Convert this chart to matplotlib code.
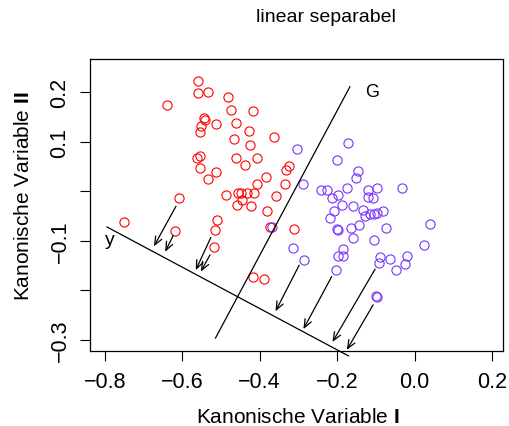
import numpy as np
import matplotlib
matplotlib.use("Agg")
import matplotlib.pyplot as plt
from matplotlib.ticker import FixedLocator, FixedFormatter

plt.rcParams["font.family"] = ["Liberation Sans", "DejaVu Sans"]
plt.rcParams["mathtext.fontset"] = "custom"
plt.rcParams["mathtext.rm"] = "Liberation Sans"
plt.rcParams["mathtext.bf"] = "Liberation Sans:bold"

# group 1 (red)
red_x = [-0.560, -0.560, -0.533, -0.481, -0.640, -0.474, -0.417, -0.544, -0.540, -0.552,
         -0.513, -0.461, -0.555, -0.427, -0.467, -0.425, -0.364, -0.561, -0.555, -0.462,
         -0.406, -0.439, -0.555, -0.514, -0.533, -0.383, -0.323, -0.333, -0.334, -0.408,
         -0.487, -0.455, -0.447, -0.432, -0.414, -0.445, -0.459, -0.423, -0.358, -0.607,
         -0.382, -0.749, -0.619, -0.509, -0.516, -0.517, -0.373, -0.311, -0.418, -0.390]
red_y = [0.222, 0.199, 0.200, 0.191, 0.175, 0.164, 0.163, 0.148, 0.143, 0.131,
         0.136, 0.138, 0.119, 0.121, 0.106, 0.094, 0.110, 0.067, 0.071, 0.068,
         0.067, 0.053, 0.048, 0.039, 0.025, 0.028, 0.051, 0.043, 0.015, 0.015,
         -0.007, -0.003, -0.003, -0.003, -0.003, -0.017, -0.028, -0.029, -0.009, -0.014,
         -0.040, -0.061, -0.080, -0.058, -0.079, -0.113, -0.071, -0.077, -0.173, -0.176]

# group 2 (blue)
blue_x = [-0.304, -0.173, -0.200, -0.147, -0.152, -0.288, -0.241, -0.226, -0.175, -0.120,
          -0.098, -0.032, -0.212, -0.198, -0.120, -0.108, -0.188, -0.160, -0.209, -0.219,
          -0.133, -0.127, -0.116, -0.106, -0.097, -0.081, -0.165, -0.144, -0.074, -0.201,
          -0.199, -0.160, -0.104, 0.039, -0.313, -0.184, -0.197, -0.184, -0.089, -0.091,
          -0.064, -0.019, -0.025, -0.049, 0.024, -0.286, -0.203, -0.098, -0.099, -0.369]
blue_y = [0.085, 0.098, 0.064, 0.040, 0.026, 0.014, 0.003, 0.003, 0.007, 0.003,
          0.007, 0.007, -0.014, -0.007, -0.011, -0.013, -0.028, -0.029, -0.039, -0.053,
          -0.038, -0.049, -0.046, -0.045, -0.044, -0.040, -0.074, -0.068, -0.074, -0.076,
          -0.079, -0.094, -0.099, -0.065, -0.115, -0.116, -0.130, -0.130, -0.133, -0.144,
          -0.136, -0.130, -0.147, -0.158, -0.108, -0.138, -0.158, -0.213, -0.212, -0.071]

# separating line G and projection axis y
g_line_x = [-0.514, -0.167]
g_line_y = [-0.296, 0.211]
y_line_x = [-0.794, -0.171]
y_line_y = [-0.072, -0.332]

# projection arrows (start -> end)
arr_x0 = [-0.616, -0.623, -0.526, -0.528, -0.298, -0.214, -0.102, -0.107]
arr_y0 = [-0.030, -0.089, -0.093, -0.128, -0.149, -0.172, -0.157, -0.229]
arr_x1 = [-0.673, -0.644, -0.565, -0.552, -0.359, -0.287, -0.212, -0.175]
arr_y1 = [-0.111, -0.122, -0.159, -0.162, -0.242, -0.278, -0.304, -0.320]

x_ticks = [-0.8, -0.6, -0.4, -0.2, 0.0, 0.2]
x_labels = ["\u22120.8", "\u22120.6", "\u22120.4", "\u22120.2", "0.0", "0.2"]
y_ticks = [0.2, 0.1, 0.0, -0.1, -0.2, -0.3]
y_labels = ["0.2", "0.1", "", "\u22120.1", "", "\u22120.3"]

fig = plt.figure(figsize=(5.09, 4.27), dpi=100)
ax = fig.add_axes([90 / 509, 1 - 352.3 / 427, 413.3 / 509, 292.3 / 427])

ax.plot(red_x, red_y, "o", mfc="none", mec="#ff0000", ms=6.6, mew=0.8)
ax.plot(blue_x, blue_y, "o", mfc="none", mec="#7733ff", ms=6.6, mew=0.8)

ax.plot(g_line_x, g_line_y, color="black", lw=0.9, clip_on=False)
ax.plot(y_line_x, y_line_y, color="black", lw=0.9, clip_on=False)
for x0, y0, x1, y1 in zip(arr_x0, arr_y0, arr_x1, arr_y1):
    ax.annotate("", xy=(x1, y1), xytext=(x0, y0),
                arrowprops=dict(arrowstyle="->,head_length=0.6,head_width=0.25",
                                color="black", lw=0.9, shrinkA=0, shrinkB=0))

ax.text(-0.110, 0.202, "G", fontsize=13, ha="center", va="center")
ax.text(-0.786, -0.097, "y", fontsize=14, ha="center", va="center")

ax.set_xlim(-0.838, 0.229)
ax.set_ylim(-0.3228, 0.267)
ax.xaxis.set_major_locator(FixedLocator(x_ticks))
ax.xaxis.set_major_formatter(FixedFormatter(x_labels))
ax.yaxis.set_major_locator(FixedLocator(y_ticks))
ax.yaxis.set_major_formatter(FixedFormatter(y_labels))
ax.tick_params(length=7, width=0.8, pad=7, labelsize=15.5)
for lab in ax.get_yticklabels():
    lab.set_rotation(90)
    lab.set_va("center")
for sp in ax.spines.values():
    sp.set_linewidth(0.9)

ax.set_xlabel(r"Kanonische Variable $\mathbf{I}$", fontsize=15)
ax.set_ylabel(r"Kanonische Variable $\mathbf{II}$", fontsize=15)
ax.xaxis.set_label_coords(0.502, -0.19)
ax.yaxis.set_label_coords(-0.138, 0.533)
fig.text(0.64, 1 - 18 / 427, "linear separabel", ha="center", va="center", fontsize=14)

fig.savefig("out.png", dpi=100)
